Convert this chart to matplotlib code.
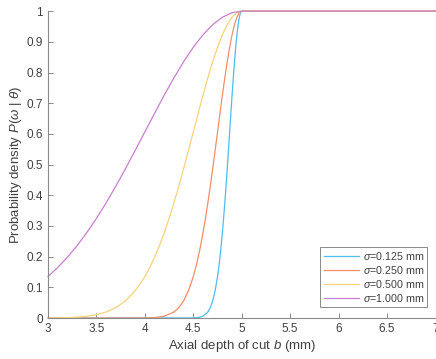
import matplotlib
matplotlib.use("Agg")
import matplotlib.pyplot as plt

plt.rcParams['font.family'] = ['Liberation Sans', 'DejaVu Sans']
plt.rcParams['mathtext.fontset'] = 'custom'
plt.rcParams['mathtext.rm'] = 'Liberation Sans'
plt.rcParams['mathtext.it'] = 'Liberation Sans:italic'

# ---- data ----
labels = ['$\\sigma$=0.125 mm', '$\\sigma$=0.250 mm', '$\\sigma$=0.500 mm', '$\\sigma$=1.000 mm']
colors = ['#4DBEEE', '#F58E66', '#FAD27A', '#C77FCF']

rise = [0.1353, 0.1645, 0.1979, 0.2357, 0.2780, 0.3247, 0.3753, 0.4296, 0.4868, 0.5461,
        0.6065, 0.6670, 0.7261, 0.7827, 0.8353, 0.8825, 0.9231, 0.9560, 0.9802, 0.9950, 1.0]

x_s0125 = [3.0, 4.5, 4.55, 4.6, 4.65, 4.675, 4.7, 4.725,
           4.75, 4.7625, 4.775, 4.7875, 4.8, 4.8125, 4.825, 4.8375, 4.85, 4.8625, 4.875,
           4.8875, 4.9, 4.9125, 4.925, 4.9375, 4.95, 4.9625, 4.975, 4.9875, 5.0, 7.0]
y_s0125 = [0.0, 0.0003, 0.0015, 0.0060, 0.0198, 0.0340, 0.0561, 0.0889] + rise + [1.0]

x_s0250 = [3.0, 3.9, 4.0, 4.1, 4.2, 4.3, 4.35, 4.4, 4.45,
           4.5, 4.525, 4.55, 4.575, 4.6, 4.625, 4.65, 4.675, 4.7, 4.725, 4.75,
           4.775, 4.8, 4.825, 4.85, 4.875, 4.9, 4.925, 4.95, 4.975, 5.0, 7.0]
y_s0250 = [0.0, 0.0001, 0.0003, 0.0015, 0.0060, 0.0198, 0.0340, 0.0561, 0.0889] + rise + [1.0]

x_s0500 = [3.0, 3.1, 3.2, 3.3, 3.4, 3.5, 3.6, 3.7, 3.8, 3.9, 4.0,
           4.05, 4.1, 4.15, 4.2, 4.25, 4.3, 4.35, 4.4, 4.45, 4.5,
           4.55, 4.6, 4.65, 4.7, 4.75, 4.8, 4.85, 4.9, 4.95, 5.0, 7.0]
y_s0500 = [0.0003, 0.0007, 0.0015, 0.0031, 0.0060, 0.0111, 0.0198, 0.0340, 0.0561, 0.0889] + rise + [1.0]

x_s1000 = [3.0, 3.1, 3.2, 3.3, 3.4, 3.5, 3.6, 3.7, 3.8, 3.9, 4.0,
           4.1, 4.2, 4.3, 4.4, 4.5, 4.6, 4.7, 4.8, 4.9, 5.0, 7.0]
y_s1000 = rise + [1.0]

xs = [x_s0125, x_s0250, x_s0500, x_s1000]
ys = [y_s0125, y_s0250, y_s0500, y_s1000]

xticks = [3, 3.5, 4, 4.5, 5, 5.5, 6, 6.5, 7]
xtick_labels = ['3', '3.5', '4', '4.5', '5', '5.5', '6', '6.5', '7']
yticks = [0, 0.1, 0.2, 0.3, 0.4, 0.5, 0.6, 0.7, 0.8, 0.9, 1]
ytick_labels = ['0', '0.1', '0.2', '0.3', '0.4', '0.5', '0.6', '0.7', '0.8', '0.9', '1']

# ---- figure ----
fig = plt.figure(figsize=(4.36, 3.59), dpi=100)
ax = fig.add_axes([0.110, 0.114, 0.889, 0.855])

for x, y, c, lab in zip(xs, ys, colors, labels):
    ax.plot(x, y, color=c, lw=0.9, label=lab, clip_on=False)

ax.set_xlim(3, 7)
ax.set_ylim(0, 1)
ax.set_xticks(xticks)
ax.set_xticklabels(xtick_labels)
ax.set_yticks(yticks)
ax.set_yticklabels(ytick_labels)

txt = '#404040'
for s in ['top', 'right']:
    ax.spines[s].set_visible(False)
for s in ['left', 'bottom']:
    ax.spines[s].set_color('#8a8a8a')
    ax.spines[s].set_linewidth(0.8)
ax.tick_params(direction='in', length=3.5, width=0.7, color='#8a8a8a',
               labelcolor=txt, labelsize=8.5, pad=3.5)

ax.set_xlabel('Axial depth of cut $b$ (mm)', fontsize=9.5, color=txt, labelpad=2)
ax.set_ylabel('Probability density $P$($\\omega$ | $\\theta$)', fontsize=9.5, color=txt, labelpad=2)

leg = ax.legend(loc='lower right', bbox_to_anchor=(0.978, 0.036), borderaxespad=0,
                fontsize=7.7, handlelength=3.3, handletextpad=0.35, labelspacing=0.18,
                borderpad=0.3, fancybox=False, framealpha=1, edgecolor='#8a8a8a')
leg.get_frame().set_linewidth(0.7)
for t in leg.get_texts():
    t.set_color(txt)

fig.savefig('out.png', dpi=100)
